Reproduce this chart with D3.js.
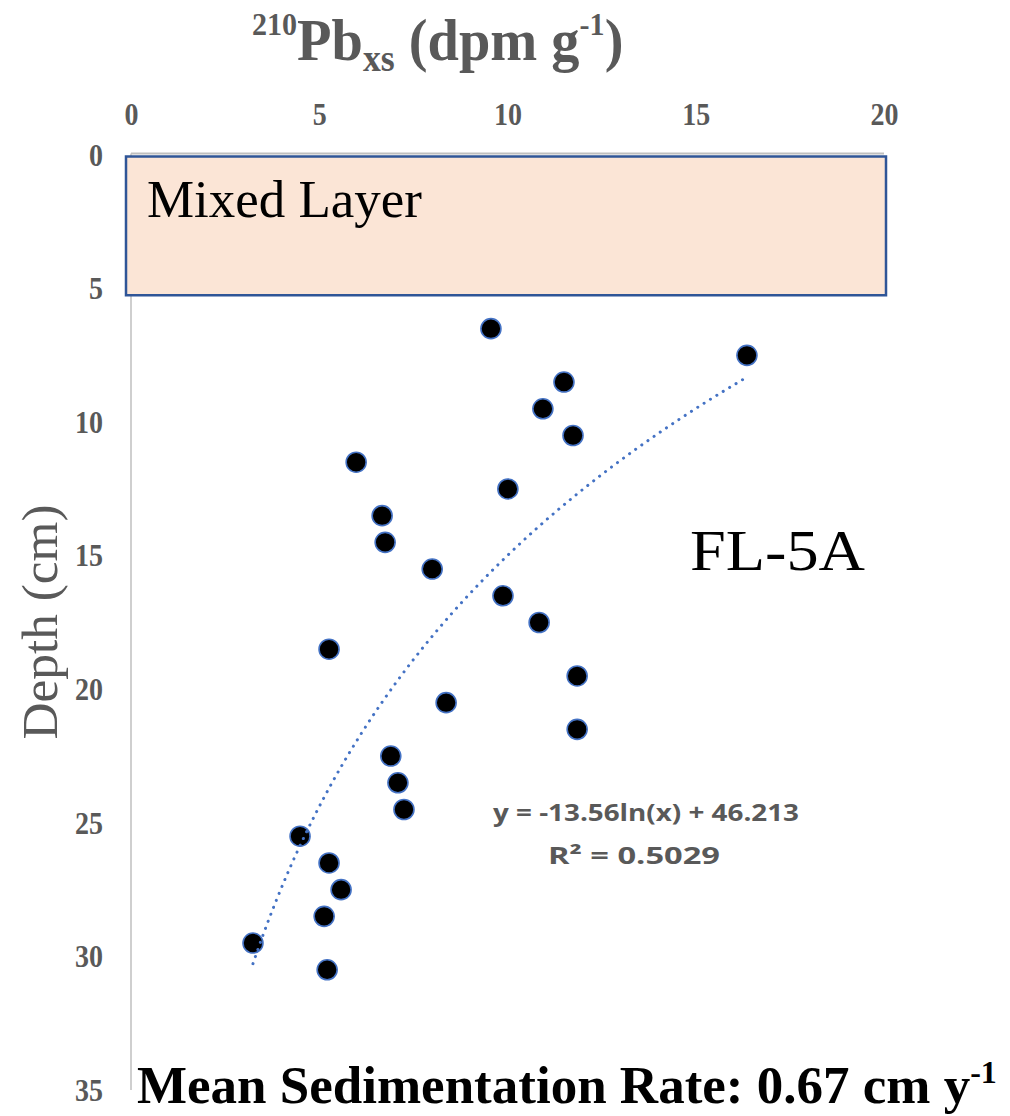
<!DOCTYPE html>
<html>
<head>
<meta charset="utf-8">
<script src="https://cdn.jsdelivr.net/npm/d3@7"></script>
<style>
  html, body { margin: 0; padding: 0; background: #ffffff; }
  svg { display: block; }
</style>
</head>
<body>
<script>
// 210Pb excess activity profile for core FL-5A
const depths = [6.5, 7.5, 8.5, 9.5, 10.5, 11.5, 12.5, 13.5, 14.5, 15.5, 16.5, 17.5, 18.5,
                19.5, 20.5, 21.5, 22.5, 23.5, 24.5, 25.5, 26.5, 27.5, 28.5, 29.5, 30.5];
const pbxs = [9.56, 16.36, 11.5, 10.94, 11.74, 5.98, 10.01, 6.67, 6.75, 8.0, 9.88, 10.84, 5.26,
              11.85, 8.37, 11.85, 6.9, 7.09, 7.25, 4.49, 5.26, 5.58, 5.13, 3.24, 5.21];
const xTicks = [0, 5, 10, 15, 20];
const yTicks = [0, 5, 10, 15, 20, 25, 30, 35];
const mixedLayer = [0, 5.25];
// logarithmic fit: depth = a ln(Pbxs) + b
const fitA = -13.56;
const fitB = 46.213;
const fitR2 = 0.5029;

const W = 1010, H = 1116;
const svg = d3.select("body").append("svg").attr("width", W).attr("height", H);

const x = d3.scaleLinear().domain([0, 20]).range([131, 884]);
const y = d3.scaleLinear().domain([0, 35]).range([155, 1090]);

const grey = "#595959";
const serif = "'Liberation Serif', 'Times New Roman', serif";

// axis lines
svg.append("line").attr("x1", x(0)).attr("x2", x(20)).attr("y1", y(0) - 1.5).attr("y2", y(0) - 1.5)
  .attr("stroke", "#bfbfbf").attr("stroke-width", 2);
svg.append("line").attr("x1", x(0)).attr("x2", x(0)).attr("y1", y(0) - 1.5).attr("y2", y(35))
  .attr("stroke", "#bfbfbf").attr("stroke-width", 1.5);

// top axis tick labels
const xAxis = d3.axisTop(x).tickValues(xTicks).tickSize(0).tickPadding(0).tickFormat(d3.format("d"));
const gx = svg.append("g").attr("transform", `translate(0,${y(0) - 30})`).call(xAxis);
gx.select(".domain").remove();
gx.selectAll("text").attr("fill", grey).attr("font-family", serif).attr("font-weight", "bold")
  .attr("font-size", 31).attr("dy", 0)
  .attr("textLength", d => String(d).length * 14).attr("lengthAdjust", "spacingAndGlyphs");

// left axis tick labels
const yAxis = d3.axisLeft(y).tickValues(yTicks).tickSize(0).tickPadding(0).tickFormat(d3.format("d"));
const gy = svg.append("g").attr("transform", `translate(${x(0) - 28},0)`).call(yAxis);
gy.select(".domain").remove();
gy.selectAll("text").attr("fill", grey).attr("font-family", serif).attr("font-weight", "bold")
  .attr("font-size", 31).attr("dy", "0.33em")
  .attr("textLength", d => String(d).length * 14).attr("lengthAdjust", "spacingAndGlyphs");

// mixed layer box
svg.append("rect")
  .attr("x", x(0) - 5).attr("y", y(mixedLayer[0]) + 1.5)
  .attr("width", x(20) - x(0) + 7).attr("height", y(mixedLayer[1]) - y(mixedLayer[0]) - 1.5)
  .attr("fill", "#fbe5d6").attr("stroke", "#2f5597").attr("stroke-width", 2.5);
svg.append("text").attr("x", x(0) + 16).attr("y", 217)
  .attr("font-family", serif).attr("font-size", 52).attr("fill", "#000")
  .attr("textLength", 275).attr("lengthAdjust", "spacingAndGlyphs")
  .text("Mixed Layer");

// data points
svg.append("g").selectAll("circle").data(depths).join("circle")
  .attr("cx", (d, i) => x(pbxs[i])).attr("cy", d => y(d)).attr("r", 10)
  .attr("fill", "#000").attr("stroke", "#4472c4").attr("stroke-width", 1.6);

// fitted trend line
const xmin = d3.min(pbxs), xmax = d3.max(pbxs);
const fitPts = d3.range(0, 201).map(k => {
  const v = xmin + (xmax - xmin) * k / 200;
  return [v, fitA * Math.log(v) + fitB];
});
svg.append("path").datum(fitPts)
  .attr("d", d3.line().x(d => x(d[0])).y(d => y(d[1])))
  .attr("fill", "none").attr("stroke", "#4472c4").attr("stroke-width", 3)
  .attr("stroke-linecap", "round").attr("stroke-dasharray", "0.1 7.4");

// equation label
const eq = svg.append("text").attr("font-family", "'Open Sans', 'Liberation Sans', sans-serif")
  .attr("font-weight", "bold").attr("font-size", 23).attr("fill", grey).attr("text-anchor", "middle");
eq.append("tspan").attr("x", 646).attr("y", 821)
  .text(`y = ${fitA}ln(x) + ${fitB}`).attr("textLength", 306).attr("lengthAdjust", "spacingAndGlyphs");
eq.append("tspan").attr("x", 634).attr("y", 864).text(`R² = ${fitR2}`)
  .attr("textLength", 172).attr("lengthAdjust", "spacingAndGlyphs");

// core label
svg.append("text").attr("x", 690).attr("y", 570)
  .attr("font-family", serif).attr("font-size", 58).attr("fill", "#000")
  .attr("textLength", 175).attr("lengthAdjust", "spacingAndGlyphs")
  .text("FL-5A");

// top axis title (horizontally condensed)
const t = svg.append("text").attr("x", 0).attr("y", 0)
  .attr("transform", "translate(252,60) scale(0.94,1)")
  .attr("font-family", serif).attr("font-weight", "bold").attr("fill", grey).attr("font-size", 60);
t.append("tspan").attr("font-size", 32).attr("dy", -25).text("210");
t.append("tspan").attr("dy", 25).text("Pb");
t.append("tspan").attr("font-size", 38).attr("dy", 11).text("xs");
t.append("tspan").attr("dy", -11).text(" (dpm g");
t.append("tspan").attr("font-size", 32).attr("dy", -25).text("-1");
t.append("tspan").attr("dy", 25).text(")");

// left axis title
svg.append("text")
  .attr("transform", `translate(57,${622}) rotate(-90)`)
  .attr("text-anchor", "middle").attr("font-family", serif).attr("font-size", 50).attr("fill", grey)
  .attr("textLength", 235).attr("lengthAdjust", "spacingAndGlyphs")
  .text("Depth (cm)");

// sedimentation rate
const s = svg.append("text").attr("x", 137).attr("y", 1103)
  .attr("font-family", serif).attr("font-weight", "bold").attr("fill", "#000").attr("font-size", 53);
s.append("tspan").text("Mean Sedimentation Rate: 0.67 cm y");
s.append("tspan").attr("font-size", 32).attr("dy", -20).text("-1");
</script>
</body>
</html>
